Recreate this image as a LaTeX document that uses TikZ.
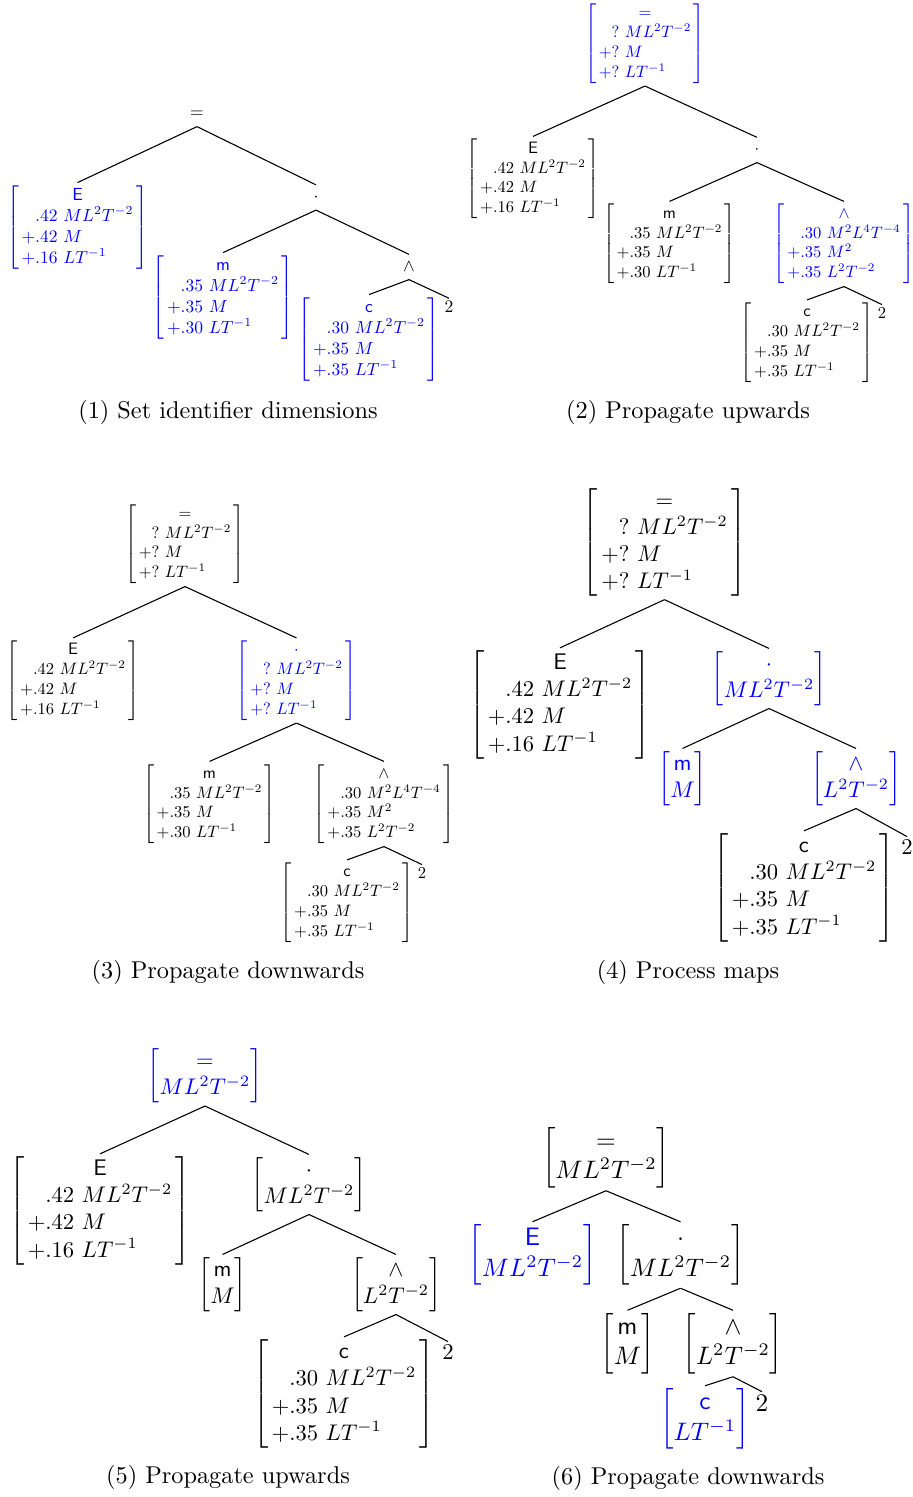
\documentclass[tikz,border=0pt]{standalone}
\usepackage{graphicx}
\newcommand\FourRow[4]{$\left[\begin{array}{@{\hspace{1.6pt}}l@{\hspace{1.6pt}}}\multicolumn{1}{c}{#1}\\\phantom{+}#2\\+#3\\+#4\end{array}\right]$}
\newcommand\TwoRow[2]{$\left[\begin{array}{@{}c@{}}#1\\#2\end{array}\right]$}
\newcommand\Pa[1]{\scalebox{0.72}{#1}}
\newcommand\Pb[1]{\scalebox{0.68}{#1}}
\newcommand\Pc[1]{\scalebox{0.93}{#1}}
\newcommand\Pd[1]{\scalebox{1.04}{#1}}
\begin{document}
\begin{tikzpicture}[x=0.4115pt,y=-0.4115pt,
  every node/.style={inner sep=1pt},
  edge/.style={draw,line width=0.45pt},
  hi/.style={text=blue},
  bare/.style={minimum height=10pt},
  captext/.style={font=\fontsize{10}{12}\selectfont}]
\useasboundingbox (0,0) rectangle (912,1497);
% ---------- Panel 1
\node[bare] (eq1) at (197,114) {\Pa{$=$}};
\node[hi] (E1) at (77.5,227.5) {\Pa{\FourRow{\textsf{E}}{.42\ ML^2T^{-2}}{.42\ M}{.16\ LT^{-1}}}};
\node[bare] (d1) at (316,197.5) {\Pa{$\cdot$}};
\node[hi] (m1) at (223,297.5) {\Pa{\FourRow{\textsf{m}}{.35\ ML^2T^{-2}}{.35\ M}{.30\ LT^{-1}}}};
\node[bare] (w1) at (409,267) {\Pa{$\wedge$}};
\node[hi] (c1) at (369,339.5) {\Pa{\FourRow{\textsf{c}}{.30\ ML^2T^{-2}}{.35\ M}{.35\ LT^{-1}}}};
\node (t1) at (449,307) {\Pa{2}};
\node[captext] (cap1) at (228,412) {(1) Set identifier dimensions};
\draw[edge] (eq1.south) -- (E1.north);
\draw[edge] (eq1.south) -- (d1.north);
\draw[edge] (d1.south) -- (m1.north);
\draw[edge] (d1.south) -- (w1.north);
\draw[edge] (w1.south) -- (c1.north);
\draw[edge] (w1.south) -- (t1.north);
% ---------- Panel 2
\node[hi] (eq2) at (645,43.5) {\Pb{\FourRow{=}{?\ ML^2T^{-2}}{?\ M}{?\ LT^{-1}}}};
\node (E2) at (533,179) {\Pb{\FourRow{\textsf{E}}{.42\ ML^2T^{-2}}{.42\ M}{.16\ LT^{-1}}}};
\node[bare] (d2) at (757,150) {\Pb{$\cdot$}};
\node (m2) at (669.5,244) {\Pb{\FourRow{\textsf{m}}{.35\ ML^2T^{-2}}{.35\ M}{.30\ LT^{-1}}}};
\node[hi] (w2) at (844,244) {\Pb{\FourRow{\wedge}{.30\ M^2L^4T^{-4}}{.35\ M^2}{.35\ L^2T^{-2}}}};
\node (c2) at (807,342.5) {\Pb{\FourRow{\textsf{c}}{.30\ ML^2T^{-2}}{.35\ M}{.35\ LT^{-1}}}};
\node (t2) at (882,313) {\Pb{2}};
\node[captext] (cap2) at (688,412) {(2) Propagate upwards};
\draw[edge] (eq2.south) -- (E2.north);
\draw[edge] (eq2.south) -- (d2.north);
\draw[edge] (d2.south) -- (m2.north);
\draw[edge] (d2.south) -- (w2.north);
\draw[edge] (w2.south) -- (c2.north);
\draw[edge] (w2.south) -- (t2.north);
% ---------- Panel 3
\node (eq3) at (185,544) {\Pb{\FourRow{=}{?\ ML^2T^{-2}}{?\ M}{?\ LT^{-1}}}};
\node (E3) at (73,680.5) {\Pb{\FourRow{\textsf{E}}{.42\ ML^2T^{-2}}{.42\ M}{.16\ LT^{-1}}}};
\node[hi] (d3) at (296.5,680.5) {\Pb{\FourRow{\cdot}{?\ ML^2T^{-2}}{?\ M}{?\ LT^{-1}}}};
\node (m3) at (209.5,804) {\Pb{\FourRow{\textsf{m}}{.35\ ML^2T^{-2}}{.35\ M}{.30\ LT^{-1}}}};
\node (w3) at (384,804) {\Pb{\FourRow{\wedge}{.30\ M^2L^4T^{-4}}{.35\ M^2}{.35\ L^2T^{-2}}}};
\node (c3) at (347,902.5) {\Pb{\FourRow{\textsf{c}}{.30\ ML^2T^{-2}}{.35\ M}{.35\ LT^{-1}}}};
\node (t3) at (422,873) {\Pb{2}};
\node[captext] (cap3) at (228,972) {(3) Propagate downwards};
\draw[edge] (eq3.south) -- (E3.north);
\draw[edge] (eq3.south) -- (d3.north);
\draw[edge] (d3.south) -- (m3.north);
\draw[edge] (d3.south) -- (w3.north);
\draw[edge] (w3.south) -- (c3.north);
\draw[edge] (w3.south) -- (t3.north);
% ---------- Panel 4
\node (eq4) at (664.5,542.5) {\Pc{\FourRow{=}{?\ ML^2T^{-2}}{?\ M}{?\ LT^{-1}}}};
\node (E4) at (560,705) {\Pc{\FourRow{\textsf{E}}{.42\ ML^2T^{-2}}{.42\ M}{.16\ LT^{-1}}}};
\node[hi] (d4) at (769,678.5) {\Pc{\TwoRow{\cdot}{ML^2T^{-2}}}};
\node[hi] (m4) at (682.5,778.5) {\Pc{\TwoRow{\textsf{m}}{M}}};
\node[hi] (w4) at (856,778.5) {\Pc{\TwoRow{\wedge}{L^2T^{-2}}}};
\node (c4) at (804,888) {\Pc{\FourRow{\textsf{c}}{.30\ ML^2T^{-2}}{.35\ M}{.35\ LT^{-1}}}};
\node (t4) at (907,847) {\Pc{2}};
\node[captext] (cap4) at (688,972) {(4) Process maps};
\draw[edge] (eq4.south) -- (E4.north);
\draw[edge] (eq4.south) -- (d4.north);
\draw[edge] (d4.south) -- (m4.north);
\draw[edge] (d4.south) -- (w4.north);
\draw[edge] (w4.south) -- (c4.north);
\draw[edge] (w4.south) -- (t4.north);
% ---------- Panel 5
\node[hi] (eq5) at (205,1076) {\Pc{\TwoRow{=}{ML^2T^{-2}}}};
\node (E5) at (100,1211) {\Pc{\FourRow{\textsf{E}}{.42\ ML^2T^{-2}}{.42\ M}{.16\ LT^{-1}}}};
\node (d5) at (309,1184.5) {\Pc{\TwoRow{\cdot}{ML^2T^{-2}}}};
\node (m5) at (222.5,1284.5) {\Pc{\TwoRow{\textsf{m}}{M}}};
\node (w5) at (396,1284.5) {\Pc{\TwoRow{\wedge}{L^2T^{-2}}}};
\node (c5) at (344,1394) {\Pc{\FourRow{\textsf{c}}{.30\ ML^2T^{-2}}{.35\ M}{.35\ LT^{-1}}}};
\node (t5) at (448,1352) {\Pc{2}};
\node[captext] (cap5) at (228,1477) {(5) Propagate upwards};
\draw[edge] (eq5.south) -- (E5.north);
\draw[edge] (eq5.south) -- (d5.north);
\draw[edge] (d5.south) -- (m5.north);
\draw[edge] (d5.south) -- (w5.north);
\draw[edge] (w5.south) -- (c5.north);
\draw[edge] (w5.south) -- (t5.north);
% ---------- Panel 6
\node (eq6) at (606,1157.5) {\Pd{\TwoRow{=}{ML^2T^{-2}}}};
\node[hi] (E6) at (532.5,1255) {\Pd{\TwoRow{\textsf{E}}{ML^2T^{-2}}}};
\node (d6) at (680.5,1255) {\Pd{\TwoRow{\cdot}{ML^2T^{-2}}}};
\node (m6) at (627.5,1343.5) {\Pd{\TwoRow{\textsf{m}}{M}}};
\node (w6) at (733,1343.5) {\Pd{\TwoRow{\wedge}{L^2T^{-2}}}};
\node[hi] (c6) at (705,1419) {\Pd{\TwoRow{\textsf{c}}{LT^{-1}}}};
\node (t6) at (762,1403) {\Pd{2}};
\node[captext] (cap6) at (688,1478) {(6) Propagate downwards};
\draw[edge] (eq6.south) -- (E6.north);
\draw[edge] (eq6.south) -- (d6.north);
\draw[edge] (d6.south) -- (m6.north);
\draw[edge] (d6.south) -- (w6.north);
\draw[edge] (w6.south) -- (c6.north);
\draw[edge] (w6.south) -- (t6.north);
\end{tikzpicture}
\end{document}
